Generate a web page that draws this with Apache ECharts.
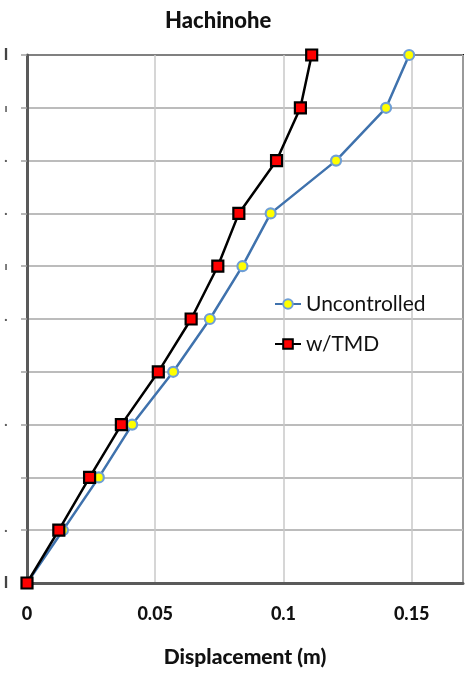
<!DOCTYPE html>
<html>
<head>
<meta charset="utf-8">
<script src="https://cdn.jsdelivr.net/npm/echarts@6/dist/echarts.min.js"></script>
<style>
html, body { margin: 0; padding: 0; background: #fff; }
#chart { width: 466px; height: 673px; }
</style>
</head>
<body>
<div id="chart"></div>
<script>
var floors = [0, 1, 2, 3, 4, 5, 6, 7, 8, 9, 10];
var uncontrolled = [0, 0.014, 0.028, 0.041, 0.057, 0.0713, 0.084, 0.095, 0.1205, 0.140, 0.149];
var withTMD = [0, 0.0124, 0.0244, 0.0368, 0.0512, 0.064, 0.0744, 0.0826, 0.0973, 0.1066, 0.111];
var yTickLabels = ['I', '\u00b7', '', '\u00b7', '', '\u00b7', '\u0131', '\u00b7', '\u00b7', '\u0131', 'I'];
var xTickLabels = { 0: '0', 0.05: '0.05', 0.1: '0.1', 0.15: '0.15' };
var seriesNames = ['Uncontrolled', 'w/TMD'];

function pairs(xs) { return xs.map(function (v, i) { return [v, floors[i]]; }); }

var chart = echarts.init(document.getElementById('chart'), null, { renderer: 'canvas' });
var FONT = 'Lato, "Open Sans", sans-serif';
chart.setOption({
  backgroundColor: '#ffffff',
  animation: false,
  title: {
    text: 'Hachinohe',
    left: 160, top: 5,
    textStyle: { fontFamily: FONT, fontWeight: 900, fontSize: 22, color: '#111' }
  },
  legend: {
    orient: 'vertical',
    left: 269, top: 288,
    itemWidth: 26, itemHeight: 12,
    itemGap: 18,
    data: seriesNames,
    textStyle: { fontFamily: FONT, fontSize: 21, color: '#111', lineHeight: 22 }
  },
  grid: {
    left: 27, right: 3, top: 55, bottom: 86,
    show: true, borderColor: '#111', borderWidth: 2, containLabel: false
  },
  xAxis: {
    type: 'value', min: 0, max: 0.17, interval: 0.05,
    name: 'Displacement (m)', nameLocation: 'middle', nameGap: 64,
    nameTextStyle: { fontFamily: FONT, fontWeight: 900, fontSize: 21, color: '#111' },
    axisLine: { show: true, onZero: false, lineStyle: { color: '#5a5a5a', width: 3 } },
    axisTick: { show: false },
    splitLine: { show: true, lineStyle: { color: '#c8c8c8', width: 1.5 } },
    axisLabel: {
      margin: 22, showMaxLabel: false,
      fontFamily: FONT, fontWeight: 900, fontSize: 18, color: '#111',
      formatter: function (v) { var k = Math.round(v * 100) / 100; return xTickLabels[k] !== undefined ? xTickLabels[k] : ''; }
    }
  },
  yAxis: {
    type: 'value', min: 0, max: 10, interval: 1,
    axisLine: { show: true, lineStyle: { color: '#5a5a5a', width: 3 } },
    axisTick: { show: true, length: 6, lineStyle: { color: '#a0a0a0', width: 1.5 } },
    splitLine: { show: true, lineStyle: { color: '#a6a6a6', width: 1.5 } },
    axisLabel: {
      margin: 21, align: 'center',
      formatter: function (v) {
        var t = yTickLabels[Math.round(v)] || '';
        if (t === 'I') return '{b|I}';
        if (t === '') return '';
        return '{s|' + t + '}';
      },
      rich: {
        b: { fontFamily: FONT, fontWeight: 'bold', fontSize: 17, color: '#444' },
        s: { fontFamily: FONT, fontWeight: 'bold', fontSize: 12, color: '#555' }
      }
    }
  },
  series: [
    {
      name: seriesNames[0], type: 'line', data: pairs(uncontrolled),
      symbol: 'circle', symbolSize: 10,
      lineStyle: { color: '#3f72ad', width: 2.5 },
      itemStyle: { color: '#ffff00', borderColor: '#6f9fd6', borderWidth: 2.2 },
      z: 3
    },
    {
      name: seriesNames[1], type: 'line', data: pairs(withTMD),
      symbol: 'rect', symbolSize: 11,
      lineStyle: { color: '#000000', width: 2.5 },
      itemStyle: { color: '#ff0000', borderColor: '#000000', borderWidth: 2.2 },
      z: 4
    }
  ]
});
</script>
</body>
</html>
